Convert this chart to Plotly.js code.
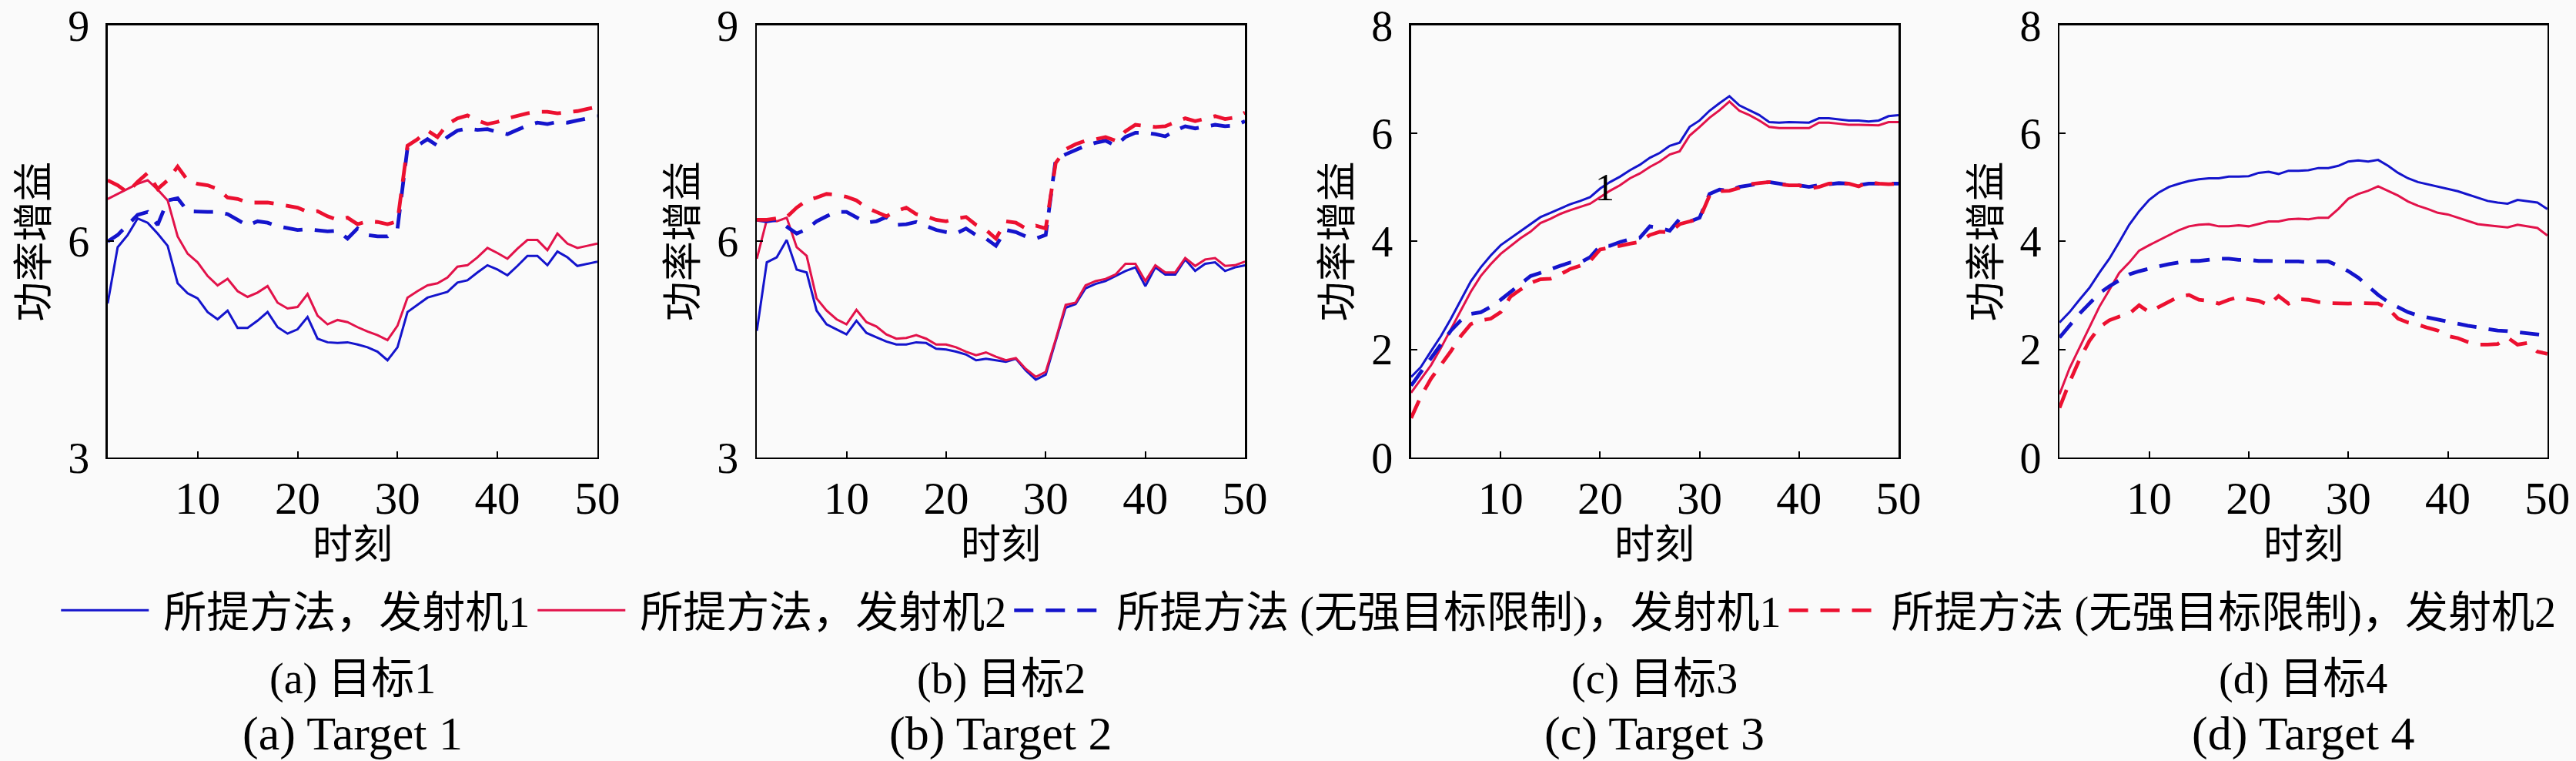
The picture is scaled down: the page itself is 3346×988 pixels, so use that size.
<!DOCTYPE html>
<html>
<head>
<meta charset="utf-8">
<script src="https://cdn.plot.ly/plotly-3.0.1.min.js"></script>
<style>html,body{margin:0;padding:0;background:#fafafa}</style>
</head>
<body>
<div id="chart" style="width:3346px;height:988px"></div>
<script>
// ---------- data ----------
const timeSteps = [1,2,3,4,5,6,7,8,9,10,11,12,13,14,15,16,17,18,19,20,21,22,23,24,25,26,27,28,29,30,31,32,33,34,35,36,37,38,39,40,41,42,43,44,45,46,47,48,49,50];
const xTicks = [10,20,30,40,50];
const seriesNames = ['所提方法，发射机1','所提方法，发射机2','所提方法 (无强目标限制)，发射机1','所提方法 (无强目标限制)，发射机2'];
const captionsCN = ['(a) 目标1','(b) 目标2','(c) 目标3','(d) 目标4'];
const captionsEN = ['(a) Target 1','(b) Target 2','(c) Target 3','(d) Target 4'];
const yTicksAB = [3,6,9];
const yTicksCD = [0,2,4,6,8];

// Target 1
const aTx1 = [5.14,5.92,6.09,6.32,6.26,6.11,5.94,5.42,5.28,5.21, 5.02,4.92,5.04,4.80,4.80,4.90,5.02,4.81,4.72,4.78, 4.95,4.65,4.60,4.59,4.60,4.57,4.53,4.47,4.35,4.53, 5.02,5.12,5.22,5.26,5.30,5.43,5.46,5.57,5.67,5.61, 5.53,5.66,5.80,5.80,5.67,5.86,5.78,5.66,5.69,5.72];
const aTx2 = [6.59,6.66,6.73,6.80,6.85,6.72,6.57,6.07,5.83,5.71, 5.52,5.39,5.48,5.31,5.23,5.29,5.38,5.15,5.07,5.09, 5.27,4.97,4.85,4.91,4.88,4.81,4.75,4.70,4.63,4.83, 5.22,5.31,5.39,5.42,5.50,5.65,5.67,5.78,5.91,5.84, 5.76,5.90,6.02,6.02,5.88,6.11,5.97,5.91,5.94,5.97];
const aTx1NoLim = [6.00,6.09,6.23,6.37,6.41,6.23,6.57,6.60,6.42,6.41, 6.41,6.41,6.38,6.30,6.22,6.28,6.26,6.21,6.18,6.16, 6.17,6.16,6.14,6.15,6.04,6.18,6.09,6.07,6.07,6.18, 7.30,7.33,7.42,7.33,7.45,7.54,7.57,7.55,7.56,7.52, 7.49,7.55,7.61,7.65,7.63,7.66,7.65,7.68,7.71,7.74];
const aTx2NoLim = [6.85,6.78,6.68,6.83,6.95,6.73,6.85,7.04,6.85,6.80, 6.78,6.73,6.61,6.59,6.54,6.54,6.54,6.52,6.49,6.47, 6.41,6.42,6.35,6.30,6.33,6.24,6.28,6.27,6.24,6.28, 7.33,7.42,7.54,7.45,7.63,7.71,7.75,7.68,7.63,7.66, 7.71,7.75,7.78,7.80,7.80,7.78,7.79,7.81,7.84,7.87];
// Target 2
const bTx1 = [4.76,5.71,5.78,6.02,5.61,5.57,5.04,4.85,4.78,4.71, 4.90,4.73,4.67,4.61,4.57,4.57,4.60,4.59,4.51,4.50, 4.47,4.43,4.35,4.37,4.35,4.33,4.37,4.21,4.08,4.15, 4.62,5.08,5.13,5.35,5.41,5.45,5.52,5.59,5.64,5.38, 5.64,5.54,5.54,5.75,5.59,5.69,5.71,5.59,5.64,5.67];
const bTx2 = [5.76,6.30,6.28,6.33,5.92,5.80,5.21,5.04,4.92,4.85, 5.05,4.88,4.82,4.71,4.65,4.66,4.70,4.65,4.57,4.57, 4.53,4.47,4.42,4.46,4.40,4.35,4.38,4.23,4.12,4.19, 4.64,5.12,5.15,5.39,5.45,5.48,5.54,5.69,5.69,5.45, 5.67,5.57,5.57,5.77,5.66,5.75,5.77,5.66,5.67,5.72];
const bTx1NoLim = [6.30,6.28,6.30,6.20,6.11,6.17,6.28,6.35,6.41,6.41, 6.34,6.26,6.28,6.34,6.23,6.24,6.27,6.21,6.16,6.13, 6.11,6.18,6.09,6.04,5.94,6.16,6.13,6.07,6.04,6.09, 7.14,7.21,7.27,7.33,7.37,7.40,7.33,7.45,7.51,7.51, 7.49,7.46,7.54,7.60,7.57,7.60,7.62,7.60,7.61,7.67];
const bTx2NoLim = [6.30,6.30,6.32,6.34,6.47,6.57,6.61,6.66,6.65,6.62, 6.57,6.47,6.41,6.35,6.42,6.47,6.38,6.35,6.30,6.28, 6.32,6.34,6.23,6.16,6.04,6.28,6.26,6.18,6.22,6.18, 7.09,7.28,7.35,7.40,7.42,7.45,7.40,7.53,7.62,7.61, 7.59,7.60,7.65,7.71,7.67,7.71,7.74,7.70,7.72,7.79];
// Target 3
const cTx1 = [1.49,1.68,1.97,2.25,2.57,2.92,3.26,3.52,3.74,3.93, 4.06,4.18,4.31,4.45,4.53,4.61,4.69,4.75,4.82,4.98, 5.10,5.20,5.32,5.42,5.55,5.64,5.77,5.83,6.12,6.24, 6.42,6.56,6.69,6.52,6.43,6.34,6.21,6.20,6.21,6.20, 6.20,6.28,6.28,6.26,6.24,6.24,6.22,6.24,6.32,6.34];
const cTx2 = [1.20,1.46,1.71,2.03,2.38,2.73,3.07,3.36,3.58,3.77, 3.92,4.06,4.18,4.34,4.42,4.51,4.58,4.64,4.70,4.82, 4.94,5.04,5.17,5.26,5.38,5.48,5.61,5.67,5.96,6.12, 6.29,6.43,6.59,6.42,6.34,6.24,6.12,6.10,6.10,6.09, 6.10,6.20,6.20,6.18,6.16,6.16,6.15,6.15,6.21,6.21];
const cTx1NoLim = [1.33,1.58,1.84,2.09,2.35,2.54,2.66,2.69,2.79,2.92, 3.07,3.23,3.36,3.42,3.49,3.55,3.61,3.61,3.71,3.92, 3.92,3.99,4.04,4.07,4.28,4.25,4.20,4.42,4.37,4.44, 4.88,4.96,4.94,5.01,5.04,5.07,5.10,5.07,5.04,5.04, 5.01,5.04,5.06,5.08,5.07,5.04,5.07,5.07,5.07,5.07];
const cTx2NoLim = [0.73,1.14,1.46,1.71,1.97,2.25,2.47,2.54,2.57,2.69, 2.98,3.11,3.23,3.30,3.31,3.39,3.49,3.55,3.64,3.85, 3.88,3.92,3.96,3.99,4.12,4.18,4.17,4.32,4.37,4.42, 4.85,4.93,4.94,4.99,5.06,5.08,5.10,5.06,5.04,5.04, 4.98,5.01,5.07,5.08,5.07,5.02,5.10,5.07,5.06,5.07];
// Target 4
const dTx1 = [2.50,2.69,2.92,3.14,3.42,3.68,3.99,4.31,4.56,4.77, 4.91,5.01,5.07,5.12,5.15,5.17,5.17,5.20,5.20,5.21, 5.27,5.29,5.25,5.31,5.31,5.32,5.36,5.36,5.40,5.48, 5.50,5.48,5.51,5.40,5.27,5.17,5.10,5.06,5.01,4.98, 4.93,4.87,4.81,4.75,4.72,4.70,4.77,4.74,4.72,4.60];
const dTx2 = [1.17,1.65,2.03,2.41,2.79,3.10,3.42,3.61,3.83,3.93, 4.02,4.12,4.21,4.28,4.31,4.32,4.28,4.28,4.30,4.28, 4.32,4.37,4.37,4.41,4.42,4.41,4.44,4.44,4.60,4.79, 4.88,4.94,5.02,4.94,4.85,4.74,4.66,4.60,4.53,4.50, 4.44,4.37,4.32,4.30,4.28,4.26,4.31,4.28,4.25,4.11];
const dTx1NoLim = [2.22,2.44,2.66,2.85,3.04,3.17,3.29,3.39,3.45,3.50, 3.54,3.58,3.61,3.64,3.64,3.66,3.68,3.68,3.66,3.66, 3.64,3.64,3.63,3.63,3.63,3.61,3.63,3.63,3.55,3.45, 3.33,3.17,3.01,2.88,2.78,2.69,2.63,2.59,2.55,2.52, 2.48,2.44,2.41,2.38,2.35,2.34,2.32,2.30,2.27,2.26];
const dTx2NoLim = [0.92,1.39,1.81,2.16,2.41,2.54,2.61,2.66,2.82,2.69, 2.79,2.88,2.98,3.01,2.92,2.90,2.85,2.92,2.97,2.93, 2.90,2.82,2.99,2.85,2.93,2.92,2.88,2.86,2.85,2.85, 2.86,2.86,2.85,2.76,2.57,2.50,2.46,2.40,2.35,2.25, 2.21,2.14,2.09,2.09,2.10,2.22,2.09,2.12,1.96,1.92];

// ---------- styling ----------
const panels = [
  {series:[aTx1,aTx2,aTx1NoLim,aTx2NoLim], yRange:[3,9], yTicks:yTicksAB},
  {series:[bTx1,bTx2,bTx1NoLim,bTx2NoLim], yRange:[3,9], yTicks:yTicksAB},
  {series:[cTx1,cTx2,cTx1NoLim,cTx2NoLim], yRange:[0,8], yTicks:yTicksCD},
  {series:[dTx1,dTx2,dTx1NoLim,dTx2NoLim], yRange:[0,8], yTicks:yTicksCD}
];
const lineStyles = [
  {color:'#1414cc', width:3, dash:'solid'},
  {color:'#e2124a', width:3, dash:'solid'},
  {color:'#1414cc', width:4.8, dash:'25px,16px'},
  {color:'#ec1030', width:4.8, dash:'25px,16px'}
];
const xDomains = [[0.0418,0.2319],[0.2938,0.4833],[0.5478,0.7370],[0.7995,0.9889]];
const yDomain = [0.3988,0.9666];
const serif = 'Liberation Serif, Noto Sans CJK SC, serif';
const cjk = 'Noto Sans CJK SC, sans-serif';
const pad = '\u00A0';

const traces = [];
const layout = {
  width:3346, height:988,
  margin:{l:0,r:0,t:0,b:0},
  paper_bgcolor:'#fafafa', plot_bgcolor:'#fafafa',
  showlegend:true,
  legend:{orientation:'h', x:0.0222, xanchor:'left', y:0.198, yanchor:'middle',
          font:{family:serif, size:56, color:'#000'}, bgcolor:'rgba(0,0,0,0)',
          itemwidth:114, traceorder:'normal'},
  annotations:[]
};

panels.forEach((p, i) => {
  const n = i === 0 ? '' : String(i+1);
  p.series.forEach((ys, k) => {
    traces.push({
      x: timeSteps, y: ys, type:'scatter', mode:'lines',
      name: pad + seriesNames[k], legendgroup: 'g'+k, showlegend: i === 0,
      xaxis:'x'+n, yaxis:'y'+n,
      line: lineStyles[k], hoverinfo:'skip'
    });
  });
  const axCommon = {showline:true, mirror:true, linecolor:'#000', linewidth:2.5,
    ticks:'inside', ticklen:8, tickwidth:2, tickcolor:'#000', showgrid:false, zeroline:false,
    ticklabeloverflow:'allow'};
  layout['xaxis'+n] = Object.assign({}, axCommon, {domain:xDomains[i], range:[1,50],
    tickvals:xTicks, anchor:'y'+n, ticklabelstandoff:0,
    tickfont:{family:serif, size:59, color:'#000'}});
  layout['yaxis'+n] = Object.assign({}, axCommon, {domain:yDomain, range:p.yRange,
    tickvals:p.yTicks, anchor:'x'+n, ticklabelstandoff:10,
    tickfont:{family:serif, size:56, color:'#000'}});
  const xd = 'x'+n+' domain', yd = 'y'+n+' domain';
  layout.annotations.push(
    {text:'时刻', xref:xd, yref:'paper', x:0.5, y:0.2885, showarrow:false,
     font:{family:cjk, size:52, color:'#000'}, xanchor:'center', yanchor:'middle'},
    {text:'功率增益', xref:xd, yref:yd, x:-0.158, y:0.5, textangle:-90, showarrow:false,
     font:{family:cjk, size:52, color:'#000'}, xanchor:'center', yanchor:'middle'},
    {text:captionsCN[i], xref:xd, yref:'paper', x:0.5, y:0.108, showarrow:false,
     font:{family:serif, size:56, color:'#000'}, xanchor:'center', yanchor:'middle'},
    {text:captionsEN[i], xref:xd, yref:'paper', x:0.5, y:0.036, showarrow:false,
     font:{family:serif, size:62, color:'#000'}, xanchor:'center', yanchor:'middle'}
  );
});
// stray "1" label drawn inside panel (c)
layout.annotations.push({text:'1', xref:'x3', yref:'y3', x:20.5, y:5.0, showarrow:false,
  font:{family:serif, size:50, color:'#000'}, xanchor:'center', yanchor:'middle'});

Plotly.newPlot('chart', traces, layout, {staticPlot:true, displayModeBar:false});
</script>
</body>
</html>
